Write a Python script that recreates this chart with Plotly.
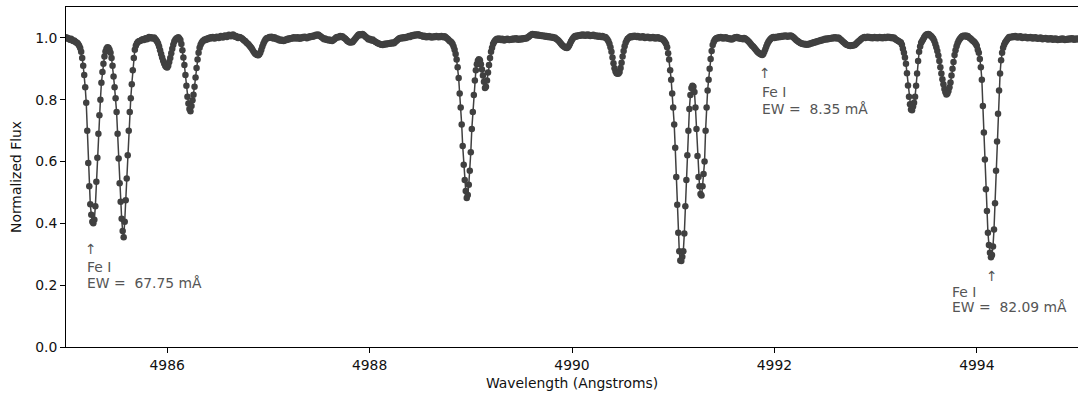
import plotly.graph_objects as go

# ---------------- data ----------------
WAVELENGTH_START = 4985.00   # Angstrom, first sample
WAVELENGTH_STEP = 0.01       # Angstrom, sampling of the spectrum

# normalized flux, one row per 0.1 Angstrom (10 samples per row)
FLUX = [
    1.002, 0.998, 1.000, 0.996, 0.994, 0.997, 0.993, 0.990, 0.992, 0.988,  # 4985.0
    0.985, 0.984, 0.980, 0.975, 0.967, 0.955, 0.935, 0.910, 0.880, 0.840,  # 4985.1
    0.790, 0.700, 0.595, 0.520, 0.462, 0.428, 0.405, 0.400, 0.412, 0.455,  # 4985.2
    0.535, 0.612, 0.690, 0.750, 0.800, 0.855, 0.890, 0.916, 0.940, 0.956,  # 4985.3
    0.965, 0.970, 0.968, 0.962, 0.952, 0.935, 0.910, 0.875, 0.840, 0.805,  # 4985.4
    0.760, 0.690, 0.610, 0.530, 0.470, 0.415, 0.375, 0.355, 0.405, 0.475,  # 4985.5
    0.545, 0.620, 0.700, 0.760, 0.805, 0.850, 0.895, 0.935, 0.962, 0.975,  # 4985.6
    0.982, 0.987, 0.989, 0.990, 0.992, 0.994, 0.996, 0.993, 0.997, 0.999,  # 4985.7
    0.996, 1.000, 1.003, 0.999, 1.002, 1.000, 0.998, 1.001, 0.997, 0.993,  # 4985.8
    0.988, 0.982, 0.972, 0.960, 0.948, 0.937, 0.926, 0.917, 0.910, 0.906,  # 4985.9
    0.904, 0.910, 0.922, 0.935, 0.950, 0.965, 0.978, 0.988, 0.994, 0.998,  # 4986.0
    1.000, 1.002, 0.998, 0.993, 0.980, 0.960, 0.937, 0.912, 0.880, 0.845,  # 4986.1
    0.810, 0.788, 0.770, 0.763, 0.780, 0.798, 0.816, 0.842, 0.872, 0.903,  # 4986.2
    0.930, 0.952, 0.968, 0.978, 0.984, 0.989, 0.992, 0.995, 0.993, 0.997,  # 4986.3
    0.996, 1.000, 0.998, 1.002, 0.999, 1.003, 1.000, 0.998, 1.001, 1.004,  # 4986.4
    1.002, 1.000, 1.003, 1.006, 1.004, 1.001, 1.005, 1.008, 1.006, 1.003,  # 4986.5
    1.007, 1.010, 1.008, 1.005, 1.009, 1.011, 1.008, 1.004, 1.006, 1.002,  # 4986.6
    1.000, 1.003, 1.002, 1.000, 0.998, 0.995, 0.992, 0.990, 0.986, 0.983,  # 4986.7
    0.980, 0.976, 0.972, 0.968, 0.963, 0.958, 0.953, 0.949, 0.946, 0.945,  # 4986.8
    0.944, 0.947, 0.953, 0.962, 0.972, 0.981, 0.988, 0.994, 0.998, 1.000,  # 4986.9
    1.000, 1.003, 1.001, 1.004, 1.000, 0.998, 1.002, 0.999, 0.996, 0.998,  # 4987.0
    0.994, 0.992, 0.995, 0.991, 0.993, 0.990, 0.992, 0.995, 0.993, 0.997,  # 4987.1
    0.995, 0.999, 0.997, 1.000, 0.998, 1.002, 0.999, 1.001, 0.998, 1.002,  # 4987.2
    1.000, 0.997, 1.001, 0.999, 1.003, 1.001, 1.004, 1.002, 0.999, 1.003,  # 4987.3
    1.001, 1.005, 1.003, 1.006, 1.004, 1.008, 1.006, 1.010, 1.008, 1.011,  # 4987.4
    1.009, 1.006, 1.004, 1.001, 0.999, 0.996, 0.998, 0.995, 0.993, 0.995,  # 4987.5
    0.992, 0.994, 0.991, 0.990, 0.993, 0.995, 0.998, 1.001, 1.003, 1.001,  # 4987.6
    1.004, 1.006, 1.003, 1.005, 1.002, 1.000, 0.997, 0.994, 0.990, 0.988,  # 4987.7
    0.986, 0.985, 0.987, 0.986, 0.990, 0.994, 0.998, 1.002, 1.006, 1.010,  # 4987.8
    1.012, 1.009, 1.011, 1.013, 1.010, 1.007, 1.004, 1.001, 0.998, 0.995,  # 4987.9
    0.997, 0.994, 0.992, 0.995, 0.991, 0.989, 0.987, 0.985, 0.983, 0.982,  # 4988.0
    0.980, 0.979, 0.978, 0.977, 0.979, 0.981, 0.979, 0.982, 0.980, 0.983,  # 4988.1
    0.981, 0.984, 0.982, 0.985, 0.983, 0.986, 0.989, 0.992, 0.995, 0.997,  # 4988.2
    1.000, 0.998, 1.001, 0.999, 1.002, 1.000, 1.003, 1.001, 1.004, 1.006,  # 4988.3
    1.003, 1.007, 1.009, 1.006, 1.010, 1.008, 1.011, 1.009, 1.012, 1.010,  # 4988.4
    1.007, 1.009, 1.006, 1.004, 1.007, 1.005, 1.002, 1.005, 1.003, 1.006,  # 4988.5
    1.004, 1.001, 1.004, 1.002, 1.005, 1.003, 1.006, 1.004, 1.002, 1.005,  # 4988.6
    1.003, 1.006, 1.004, 1.002, 1.005, 1.003, 1.000, 0.997, 0.994, 0.990,  # 4988.7
    0.988, 0.985, 0.980, 0.972, 0.962, 0.948, 0.930, 0.905, 0.870, 0.820,  # 4988.8
    0.775, 0.720, 0.650, 0.590, 0.540, 0.505, 0.482, 0.492, 0.525, 0.570,  # 4988.9
    0.630, 0.705, 0.760, 0.815, 0.862, 0.895, 0.915, 0.926, 0.931, 0.928,  # 4989.0
    0.915, 0.898, 0.878, 0.858, 0.838, 0.842, 0.862, 0.888, 0.912, 0.935,  # 4989.1
    0.955, 0.968, 0.980, 0.987, 0.992, 0.995, 0.997, 0.994, 0.998, 0.996,  # 4989.2
    0.993, 0.997, 0.995, 0.992, 0.996, 0.994, 0.997, 0.995, 0.993, 0.996,  # 4989.3
    0.994, 0.997, 0.995, 0.998, 0.996, 0.999, 0.996, 0.994, 0.997, 0.995,  # 4989.4
    0.998, 0.996, 0.999, 0.997, 1.000, 0.998, 1.001, 1.003, 1.006, 1.009,  # 4989.5
    1.011, 1.013, 1.010, 1.012, 1.009, 1.011, 1.008, 1.010, 1.007, 1.009,  # 4989.6
    1.006, 1.008, 1.005, 1.007, 1.004, 1.006, 1.003, 1.005, 1.002, 1.004,  # 4989.7
    1.001, 1.003, 1.000, 1.001, 0.998, 0.996, 0.993, 0.990, 0.986, 0.982,  # 4989.8
    0.978, 0.975, 0.972, 0.970, 0.968, 0.967, 0.970, 0.975, 0.981, 0.988,  # 4989.9
    0.994, 0.999, 1.003, 1.006, 1.004, 1.008, 1.006, 1.009, 1.007, 1.010,  # 4990.0
    1.008, 1.011, 1.009, 1.007, 1.010, 1.008, 1.011, 1.009, 1.006, 1.009,  # 4990.1
    1.007, 1.010, 1.008, 1.005, 1.008, 1.006, 1.004, 1.007, 1.005, 1.003,  # 4990.2
    1.006, 1.004, 1.001, 1.003, 0.999, 0.995, 0.989, 0.981, 0.970, 0.955,  # 4990.3
    0.937, 0.918, 0.902, 0.891, 0.886, 0.884, 0.885, 0.890, 0.903, 0.920,  # 4990.4
    0.940, 0.958, 0.973, 0.984, 0.992, 0.997, 1.000, 1.003, 1.005, 1.002,  # 4990.5
    1.006, 1.004, 1.007, 1.005, 1.003, 1.006, 1.004, 1.001, 1.004, 1.002,  # 4990.6
    1.005, 1.003, 1.000, 1.003, 1.001, 1.004, 1.002, 0.999, 1.002, 1.000,  # 4990.7
    1.003, 1.001, 0.998, 1.001, 0.999, 1.002, 1.000, 0.997, 0.999, 0.996,  # 4990.8
    0.995, 0.991, 0.986, 0.980, 0.970, 0.950, 0.930, 0.895, 0.865, 0.820,  # 4990.9
    0.775, 0.720, 0.645, 0.550, 0.460, 0.370, 0.310, 0.280, 0.278, 0.292,  # 4991.0
    0.310, 0.367, 0.455, 0.540, 0.620, 0.700, 0.770, 0.815, 0.838, 0.845,  # 4991.1
    0.842, 0.825, 0.775, 0.705, 0.618, 0.550, 0.520, 0.495, 0.490, 0.520,  # 4991.2
    0.560, 0.600, 0.700, 0.775, 0.830, 0.865, 0.900, 0.932, 0.958, 0.977,  # 4991.3
    0.987, 0.993, 0.997, 1.000, 0.998, 1.002, 1.000, 1.003, 1.001, 0.998,  # 4991.4
    1.001, 0.999, 1.002, 1.000, 0.997, 0.999, 0.996, 0.998, 0.995, 0.997,  # 4991.5
    0.999, 1.002, 1.000, 1.003, 1.001, 0.998, 1.000, 0.997, 0.999, 0.996,  # 4991.6
    1.000, 0.998, 0.996, 0.993, 0.990, 0.987, 0.983, 0.979, 0.975, 0.972,  # 4991.7
    0.968, 0.964, 0.960, 0.956, 0.953, 0.950, 0.948, 0.946, 0.945, 0.948,  # 4991.8
    0.955, 0.963, 0.972, 0.980, 0.987, 0.992, 0.996, 0.999, 1.001, 1.003,  # 4991.9
    1.000, 1.003, 1.001, 1.004, 1.002, 1.005, 1.003, 1.006, 1.004, 1.007,  # 4992.0
    1.005, 1.008, 1.006, 1.004, 1.007, 1.005, 1.008, 1.006, 1.004, 1.001,  # 4992.1
    0.998, 0.995, 0.992, 0.990, 0.987, 0.985, 0.983, 0.982, 0.980, 0.981,  # 4992.2
    0.979, 0.980, 0.978, 0.980, 0.979, 0.981, 0.983, 0.982, 0.985, 0.984,  # 4992.3
    0.987, 0.986, 0.989, 0.988, 0.991, 0.990, 0.993, 0.992, 0.995, 0.994,  # 4992.4
    0.997, 0.995, 0.998, 0.996, 0.999, 0.997, 1.000, 0.998, 1.001, 0.999,  # 4992.5
    1.002, 1.000, 0.998, 1.001, 0.999, 0.996, 0.993, 0.990, 0.987, 0.984,  # 4992.6
    0.981, 0.979, 0.977, 0.976, 0.975, 0.974, 0.976, 0.975, 0.977, 0.976,  # 4992.7
    0.979, 0.982, 0.985, 0.988, 0.991, 0.994, 0.997, 0.999, 1.001, 1.003,  # 4992.8
    1.000, 1.002, 1.004, 1.001, 1.003, 1.000, 1.002, 0.999, 1.001, 1.003,  # 4992.9
    1.000, 1.002, 0.999, 1.001, 1.003, 1.000, 1.002, 0.999, 1.001, 1.003,  # 4993.0
    1.000, 1.002, 1.004, 1.001, 1.003, 1.000, 1.002, 0.999, 1.001, 0.998,  # 4993.1
    0.995, 0.993, 0.991, 0.989, 0.987, 0.985, 0.978, 0.965, 0.952, 0.937,  # 4993.2
    0.916, 0.886, 0.846, 0.810, 0.785, 0.768, 0.766, 0.778, 0.790, 0.810,  # 4993.3
    0.845, 0.885, 0.925, 0.955, 0.972, 0.984, 0.990, 0.996, 1.002, 1.007,  # 4993.4
    1.010, 1.012, 1.013, 1.011, 1.008, 1.005, 1.001, 0.997, 0.990, 0.980,  # 4993.5
    0.970, 0.958, 0.943, 0.925, 0.905, 0.885, 0.866, 0.850, 0.835, 0.824,  # 4993.6
    0.817, 0.820, 0.828, 0.840, 0.856, 0.878, 0.900, 0.922, 0.945, 0.960,  # 4993.7
    0.973, 0.983, 0.990, 0.996, 1.000, 1.004, 1.006, 1.007, 1.005, 1.008,  # 4993.8
    1.004, 1.006, 1.002, 1.000, 0.997, 0.994, 0.991, 0.988, 0.985, 0.980,  # 4993.9
    0.975, 0.962, 0.952, 0.932, 0.905, 0.865, 0.780, 0.694, 0.607, 0.510,  # 4994.0
    0.440, 0.370, 0.330, 0.305, 0.290, 0.298, 0.325, 0.380, 0.465, 0.570,  # 4994.1
    0.665, 0.755, 0.830, 0.885, 0.928, 0.952, 0.968, 0.978, 0.985, 0.990,  # 4994.2
    0.995, 0.999, 1.003, 1.001, 1.004, 1.002, 1.005, 1.003, 1.006, 1.004,  # 4994.3
    1.001, 1.004, 1.002, 1.005, 1.003, 1.000, 1.003, 1.001, 1.004, 1.002,  # 4994.4
    0.999, 1.002, 1.000, 1.003, 1.001, 0.998, 1.001, 0.999, 1.002, 1.000,  # 4994.5
    0.997, 1.000, 0.998, 1.001, 0.999, 0.996, 0.999, 0.997, 1.000, 0.998,  # 4994.6
    0.995, 0.998, 0.996, 0.999, 0.997, 0.994, 0.997, 0.995, 0.998, 0.996,  # 4994.7
    0.993, 0.996, 0.994, 0.997, 0.995, 0.998, 0.996, 0.993, 0.996, 0.994,  # 4994.8
    0.997, 0.995, 0.998, 0.996, 0.999, 0.997, 0.994, 0.997, 0.995, 0.998,  # 4994.9
    0.996,                                                                 # 4995.0
]

LINE_SPECIES = ["Fe I", "Fe I", "Fe I"]
LINE_EW_MA = [67.75, 8.35, 82.09]

X_TICKS = [4986, 4988, 4990, 4992, 4994]
Y_TICKS = [0.0, 0.2, 0.4, 0.6, 0.8, 1.0]

X_TITLE = "Wavelength (Angstroms)"
Y_TITLE = "Normalized Flux"

# ---------------- figure ----------------
wavelength = [round(WAVELENGTH_START + i * WAVELENGTH_STEP, 4) for i in range(len(FLUX))]

FONT = "DejaVu Sans"
FS = 13.9
DATA_COLOR = "#404040"
NOTE_COLOR = "#555555"

fig = go.Figure()
fig.add_trace(go.Scatter(
    x=wavelength, y=FLUX, mode="lines+markers",
    line=dict(color=DATA_COLOR, width=1.5),
    marker=dict(color=DATA_COLOR, size=6.5, line=dict(width=0)),
    showlegend=False, hoverinfo="skip",
))

# annotation placement (arrow x, arrow y, text x, species y, EW y) in data units
note_places = [
    (4985.247, 0.317, 4985.186, 0.259, 0.206),
    (4991.907, 0.885, 4991.856, 0.826, 0.769),
    (4994.152, 0.231, 4993.740, 0.179, 0.128),
]
annotations = []
for (ax_, ay_, tx_, sy_, ey_), sp, ew in zip(note_places, LINE_SPECIES, LINE_EW_MA):
    annotations.append(dict(x=ax_, y=ay_, xref="x", yref="y", text="\u2191",
                            showarrow=False, xanchor="center", yanchor="middle",
                            font=dict(family=FONT, size=FS, color=NOTE_COLOR)))
    annotations.append(dict(x=tx_, y=sy_, xref="x", yref="y", text=sp,
                            showarrow=False, xanchor="left", yanchor="middle",
                            font=dict(family=FONT, size=FS, color=NOTE_COLOR)))
    annotations.append(dict(x=tx_, y=ey_, xref="x", yref="y",
                            text=f"EW =\u00a0 {ew:.2f} mÅ",
                            showarrow=False, xanchor="left", yanchor="middle",
                            font=dict(family=FONT, size=FS, color=NOTE_COLOR)))

annotations.append(dict(x=0.5, y=-0.106, xref="paper", yref="paper", text=X_TITLE,
                        showarrow=False, xanchor="center", yanchor="middle",
                        font=dict(family=FONT, size=FS, color="#111111")))
annotations.append(dict(x=-0.0494, y=0.5, xref="paper", yref="paper", text=Y_TITLE,
                        showarrow=False, xanchor="center", yanchor="middle", textangle=-90,
                        font=dict(family=FONT, size=FS, color="#111111")))

axis_common = dict(
    showline=True, linecolor="black", linewidth=1, mirror=True,
    showgrid=False, zeroline=False,
    ticks="outside", ticklen=5, tickwidth=1, tickcolor="black",
    tickfont=dict(family=FONT, size=FS, color="#111111"),
)

fig.update_layout(
    width=1078, height=399, autosize=False,
    margin=dict(l=66, r=0, t=7, b=52),
    paper_bgcolor="white", plot_bgcolor="white",
    font=dict(family=FONT, size=FS, color="#111111"),
    xaxis=dict(range=[4985, 4995], tickvals=X_TICKS, **axis_common),
    yaxis=dict(range=[0, 1.1], tickvals=Y_TICKS, tickformat=".1f", **axis_common),
    annotations=annotations,
    showlegend=False,
)

fig.write_html(
    "out.html",
    config={"displayModeBar": False, "staticPlot": True},
    post_script="document.body.style.margin='0';document.body.style.padding='0';"
                "document.body.style.overflow='hidden';",
)
